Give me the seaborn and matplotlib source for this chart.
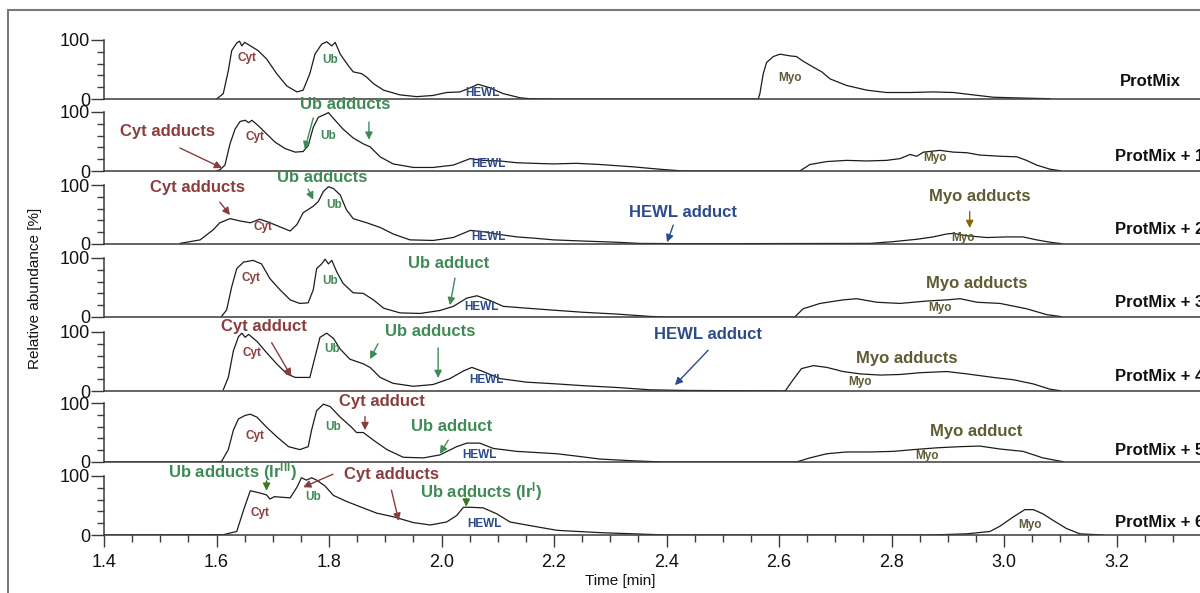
import matplotlib
matplotlib.use("Agg")
import matplotlib.pyplot as plt
import matplotlib.patches as mpatches
from matplotlib.ticker import MultipleLocator, FixedLocator
import seaborn as sns

# ---- chromatogram traces: time [min] / relative abundance [%] ----
t_mix = [1.600, 1.612, 1.621, 1.627, 1.636, 1.641, 1.645, 1.650, 1.657, 1.674, 1.689, 1.707, 1.725,
         1.743, 1.754, 1.766, 1.775, 1.787, 1.796, 1.805, 1.811, 1.820, 1.834, 1.843, 1.858, 1.867,
         1.879, 1.897, 1.926, 1.956, 1.985, 2.009, 2.033, 2.051, 2.065, 2.086, 2.110, 2.140, 2.157,
         2.200, 2.545, 2.563, 2.566, 2.572, 2.578, 2.590, 2.602, 2.620, 2.631, 2.643, 2.661, 2.676,
         2.691, 2.720, 2.756, 2.791, 2.833, 2.874, 2.910, 2.945, 2.981, 3.017, 3.058, 3.082]
a_mix = [0, 9, 48, 82, 95, 98, 90, 96, 92, 82, 68, 43, 22,
         12, 15, 43, 76, 93, 97, 90, 96, 76, 57, 46, 43, 37,
         26, 15, 7, 4, 6, 11, 12, 19, 25, 19, 9, 2, 0.5,
         0, 0, 0, 9, 43, 62, 72, 76, 73, 72, 64, 54, 46,
         34, 23, 15, 11, 11, 12, 11, 7, 3, 2, 1, 0.5]

t_mix1 = [1.600, 1.606, 1.615, 1.624, 1.633, 1.642, 1.651, 1.657, 1.663, 1.674, 1.689, 1.704, 1.722,
          1.740, 1.754, 1.763, 1.772, 1.781, 1.793, 1.799, 1.808, 1.825, 1.843, 1.861, 1.873, 1.891,
          1.914, 1.950, 1.985, 2.021, 2.051, 2.074, 2.104, 2.134, 2.163, 2.199, 2.240, 2.282, 2.341,
          2.388, 2.430, 2.637, 2.655, 2.685, 2.720, 2.756, 2.791, 2.815, 2.833, 2.845, 2.857, 2.886,
          2.910, 2.934, 2.957, 2.993, 3.023, 3.040, 3.058, 3.082, 3.100]
a_mix1 = [0, 2, 10, 46, 71, 84, 86, 82, 86, 77, 63, 49, 38,
          32, 33, 43, 74, 91, 96, 99, 89, 71, 56, 46, 41, 24,
          12, 6, 6, 10, 21, 18, 17, 14, 13, 12, 13, 11, 7,
          3, 0, 0, 11, 16, 18, 17, 18, 21, 28, 25, 32, 35,
          32, 31, 27, 25, 24, 18, 10, 3, 0.5]

t_mix2 = [1.535, 1.571, 1.594, 1.606, 1.624, 1.642, 1.660, 1.677, 1.695, 1.713, 1.731, 1.743, 1.754,
          1.772, 1.781, 1.790, 1.799, 1.808, 1.820, 1.831, 1.843, 1.867, 1.891, 1.914, 1.944, 1.985,
          2.021, 2.051, 2.074, 2.104, 2.134, 2.163, 2.199, 2.252, 2.311, 2.353, 2.436, 2.762, 2.803,
          2.845, 2.874, 2.898, 2.910, 2.934, 2.969, 3.005, 3.034, 3.058, 3.082, 3.103]
a_mix2 = [1, 7, 24, 36, 43, 39, 36, 42, 36, 29, 22, 33, 53,
          64, 72, 89, 97, 94, 83, 58, 43, 36, 28, 17, 7, 6,
          11, 23, 21, 16, 12, 10, 7, 5, 3, 1, 0.5, 1, 4,
          8, 12, 17, 18, 14, 11, 12, 12, 7, 3, 0.5]

t_mix3 = [1.609, 1.618, 1.627, 1.636, 1.648, 1.665, 1.680, 1.695, 1.713, 1.731, 1.748, 1.763, 1.772,
          1.778, 1.787, 1.793, 1.799, 1.805, 1.814, 1.825, 1.843, 1.861, 1.879, 1.897, 1.926, 1.962,
          1.997, 2.021, 2.045, 2.063, 2.086, 2.110, 2.151, 2.193, 2.252, 2.311, 2.371, 2.400, 2.628,
          2.643, 2.673, 2.714, 2.738, 2.774, 2.815, 2.862, 2.898, 2.922, 2.952, 2.993, 3.040, 3.076,
          3.103]
a_mix3 = [1, 12, 51, 82, 93, 96, 90, 65, 46, 29, 23, 24, 46,
          82, 90, 98, 90, 96, 76, 57, 41, 40, 29, 15, 7, 6,
          11, 18, 32, 36, 28, 18, 15, 12, 8, 5, 1, 0, 0,
          14, 23, 29, 31, 25, 23, 27, 29, 31, 25, 23, 14, 4,
          0.5]

t_mix4 = [1.612, 1.621, 1.630, 1.639, 1.645, 1.651, 1.657, 1.672, 1.689, 1.707, 1.725, 1.740, 1.766,
          1.775, 1.784, 1.796, 1.808, 1.820, 1.837, 1.861, 1.873, 1.891, 1.914, 1.950, 1.985, 2.015,
          2.039, 2.054, 2.074, 2.104, 2.151, 2.205, 2.252, 2.311, 2.371, 2.430, 2.611, 2.625, 2.640,
          2.661, 2.685, 2.714, 2.744, 2.780, 2.815, 2.851, 2.898, 2.934, 2.981, 3.017, 3.052, 3.082,
          3.100]
a_mix4 = [2, 23, 68, 92, 98, 91, 96, 84, 65, 46, 29, 23, 23,
          57, 91, 98, 89, 71, 54, 46, 40, 23, 13, 8, 11, 21,
          34, 40, 33, 21, 15, 12, 9, 6, 2, 1, 0, 19, 38,
          43, 40, 33, 29, 27, 28, 31, 33, 29, 23, 19, 12, 3,
          0.5]

t_mix5 = [1.400, 1.600, 1.609, 1.621, 1.630, 1.639, 1.651, 1.660, 1.672, 1.689, 1.707, 1.728, 1.748,
          1.763, 1.769, 1.778, 1.790, 1.802, 1.820, 1.840, 1.849, 1.861, 1.879, 1.903, 1.932, 1.968,
          1.997, 2.027, 2.045, 2.068, 2.092, 2.134, 2.205, 2.240, 2.282, 2.341, 2.394, 2.631, 2.655,
          2.685, 2.720, 2.762, 2.803, 2.839, 2.880, 2.922, 2.957, 2.993, 3.034, 3.069, 3.105]
a_mix5 = [0, 0, 1, 21, 54, 73, 79, 81, 76, 59, 43, 26, 21,
          26, 54, 87, 98, 94, 76, 59, 50, 50, 37, 21, 8, 7,
          12, 26, 32, 32, 23, 18, 14, 10, 5, 2, 0, 0, 7,
          14, 17, 17, 18, 21, 24, 26, 27, 22, 18, 7, 0.5]

t_mix6 = [1.400, 1.612, 1.636, 1.648, 1.660, 1.674, 1.689, 1.695, 1.703, 1.716, 1.731, 1.743, 1.751,
          1.760, 1.769, 1.778, 1.793, 1.808, 1.831, 1.855, 1.885, 1.914, 1.950, 1.980, 2.009, 2.027,
          2.039, 2.051, 2.074, 2.098, 2.122, 2.163, 2.205, 2.222, 2.282, 2.341, 2.401, 2.871, 2.934,
          2.975, 2.993, 3.017, 3.037, 3.052, 3.069, 3.087, 3.111, 3.135, 3.176]
a_mix6 = [0, 0.5, 6, 42, 75, 72, 68, 61, 65, 64, 63, 81, 97,
          93, 97, 93, 83, 67, 57, 48, 37, 31, 21, 17, 22, 33,
          47, 47, 46, 36, 22, 15, 8, 7, 4, 2, 0, 0, 2,
          6, 15, 31, 43, 43, 36, 25, 11, 2, 0]

sample_names = ["ProtMix", "ProtMix + 1", "ProtMix + 2", "ProtMix + 3",
                "ProtMix + 4", "ProtMix + 5", "ProtMix + 6"]
sample_label_y = [30, 24, 25, 25, 25, 19, 22]

traces = [(t_mix, a_mix), (t_mix1, a_mix1), (t_mix2, a_mix2), (t_mix3, a_mix3),
          (t_mix4, a_mix4), (t_mix5, a_mix5), (t_mix6, a_mix6)]

CYT = "#8b3c3c"
UB = "#3f8b55"
UB_DARK = "#3a7a25"
HEWL = "#2c4b8c"
MYO = "#5f5b34"
MYO_ARROW = "#8b6508"

# small peak labels per panel: (text, time, abundance, colour)
peak_labels = [
    [("Cyt", 1.654, 69, CYT), ("Ub", 1.802, 66, UB), ("HEWL", 2.072, 10, HEWL), ("Myo", 2.620, 36, MYO)],
    [("Cyt", 1.668, 58, CYT), ("Ub", 1.798, 59, UB), ("HEWL", 2.083, 12, HEWL), ("Myo", 2.877, 22, MYO)],
    [("Cyt", 1.683, 29, CYT), ("Ub", 1.809, 66, UB), ("HEWL", 2.083, 12, HEWL), ("Myo", 2.927, 10, MYO)],
    [("Cyt", 1.662, 66, CYT), ("Ub", 1.802, 61, UB), ("HEWL", 2.071, 17, HEWL), ("Myo", 2.886, 16, MYO)],
    [("Cyt", 1.663, 64, CYT), ("Ub", 1.805, 71, UB), ("HEWL", 2.080, 19, HEWL), ("Myo", 2.744, 16, MYO)],
    [("Cyt", 1.668, 44, CYT), ("Ub", 1.808, 60, UB), ("HEWL", 2.068, 12, HEWL), ("Myo", 2.863, 10, MYO)],
    [("Cyt", 1.677, 37, CYT), ("Ub", 1.772, 65, UB), ("HEWL", 2.077, 19, HEWL), ("Myo", 3.046, 17, MYO)],
]

# adduct labels per panel: (text, time, abundance, colour)
adduct_labels = [
    [],
    [("Cyt adducts", 1.512, 67, CYT), ("Ub adducts", 1.828, 112, UB)],
    [("Cyt adducts", 1.566, 95, CYT), ("Ub adducts", 1.788, 112, UB),
     ("HEWL adduct", 2.429, 53, HEWL), ("Myo adducts", 2.957, 81, MYO)],
    [("Ub adduct", 2.013, 90, UB), ("Myo adducts", 2.951, 57, MYO)],
    [("Cyt adduct", 1.685, 109, CYT), ("Ub adducts", 1.980, 101, UB),
     ("HEWL adduct", 2.474, 95, HEWL), ("Myo adducts", 2.827, 55, MYO)],
    [("Cyt adduct", 1.894, 102, CYT), ("Ub adduct", 2.018, 60, UB), ("Myo adduct", 2.951, 51, MYO)],
    [(r"Ub adducts (Ir$^{\mathrm{III}}$)", 1.628, 107, UB), ("Cyt adducts", 1.911, 102, CYT),
     (r"Ub adducts (Ir$^{\mathrm{I}}$)", 2.070, 73, UB)],
]

# arrows per panel: (tail time, tail abund., head time, head abund., colour)
arrows = [
    [],
    [(1.535, 39, 1.610, 5, CYT), (1.772, 90, 1.757, 37, UB), (1.871, 83, 1.871, 53, UB)],
    [(1.606, 71, 1.624, 49, CYT), (1.763, 93, 1.772, 75, UB),
     (2.412, 32, 2.401, 3, HEWL), (2.939, 55, 2.939, 27, MYO_ARROW)],
    [(2.024, 66, 2.015, 20, UB)],
    [(1.698, 82, 1.733, 25, CYT), (1.887, 80, 1.873, 54, UB), (1.994, 73, 1.994, 22, UB),
     (2.474, 69, 2.415, 10, HEWL)],
    [(1.864, 77, 1.864, 54, CYT), (2.012, 37, 1.997, 14, UB)],
    [(1.689, 92, 1.689, 75, UB_DARK), (1.807, 103, 1.754, 81, CYT), (1.911, 76, 1.924, 24, CYT),
     (2.044, 62, 2.044, 48, UB_DARK)],
]

sns.set_style("ticks")
plt.rcParams["font.family"] = ["Liberation Sans", "DejaVu Sans"]
plt.rcParams["mathtext.fontset"] = "custom"
plt.rcParams["mathtext.rm"] = "Liberation Sans:bold"
plt.rcParams["mathtext.bf"] = "Liberation Sans:bold"
plt.rcParams["mathtext.it"] = "Liberation Sans:bold"

W, H = 1200, 593
fig = plt.figure(figsize=(W / 100, H / 100), dpi=100)

baselines = [99, 171, 244, 317, 391, 462, 535]
panel_h = 59
x0_px, x1_px = 104, 1229
xmin, xmax = 1.4, 3.4

axis_col = "#3a3a3a"
for i, (tt, aa) in enumerate(traces):
    b = baselines[i]
    ax = fig.add_axes([x0_px / W, 1 - b / H, (x1_px - x0_px) / W, panel_h / H])
    ax.patch.set_visible(False)
    sns.lineplot(x=tt, y=aa, ax=ax, color="#1c1c1c", linewidth=0.9, estimator=None, sort=False)
    ax.set_xlim(xmin, xmax)
    ax.set_ylim(0, 100)
    ax.set_xlabel("")
    ax.set_ylabel("")
    for s in ["top", "right"]:
        ax.spines[s].set_visible(False)
    for s in ["left", "bottom"]:
        ax.spines[s].set_color(axis_col)
        ax.spines[s].set_linewidth(1.1)

    ax.yaxis.set_major_locator(FixedLocator([0, 100]))
    ax.yaxis.set_minor_locator(FixedLocator([20, 40, 60, 80]))
    ax.tick_params(axis="y", which="major", length=9.5, width=1, color=axis_col,
                   labelsize=13, pad=0.5, labelcolor="#111111")
    ax.tick_params(axis="y", which="minor", length=5, width=1, color=axis_col)

    if i < len(traces) - 1:
        ax.tick_params(axis="x", which="both", bottom=False, labelbottom=False)
    else:
        ax.xaxis.set_major_locator(MultipleLocator(0.2))
        ax.xaxis.set_minor_locator(MultipleLocator(0.05))
        ax.xaxis.set_major_formatter(matplotlib.ticker.FormatStrFormatter("%.1f"))
        ax.tick_params(axis="x", which="major", length=8.5, width=1, color=axis_col,
                       labelsize=13, pad=5, labelcolor="#111111")
        ax.tick_params(axis="x", which="minor", length=5, width=1, color=axis_col)

    for txt, tx, ty, col in peak_labels[i]:
        ax.text(tx, ty, txt, color=col, fontsize=8.5, fontweight="bold",
                ha="center", va="center", clip_on=False)
    for txt, tx, ty, col in adduct_labels[i]:
        ax.text(tx, ty, txt, color=col, fontsize=12, fontweight="bold",
                ha="center", va="center", clip_on=False, zorder=5)
    for xt, yt, xh, yh, col in arrows[i]:
        ax.annotate("", xy=(xh, yh), xytext=(xt, yt), annotation_clip=False,
                    arrowprops=dict(arrowstyle="-|>", color=col, lw=1.0,
                                    mutation_scale=11, shrinkA=0, shrinkB=0))

    x_name = 3.197 if i > 0 else 3.206
    ax.text(x_name, sample_label_y[i], sample_names[i], fontsize=12, fontweight="bold",
            color="#111111", ha="left", va="center", clip_on=False)

fig.text(35 / W, 1 - 288 / H, "Relative abundance [%]", rotation=90, fontsize=11,
         ha="center", va="center", color="#111111")
fig.text(620 / W, 1 - 581 / H, "Time [min]", fontsize=11, ha="center", va="center", color="#111111")

frame = mpatches.Rectangle((8 / W, -0.1), 1.2, 1.1 - 10 / H, transform=fig.transFigure,
                           fill=False, edgecolor="#7a7a7a", linewidth=1.5)
fig.add_artist(frame)

fig.savefig("out.png", dpi=100)
